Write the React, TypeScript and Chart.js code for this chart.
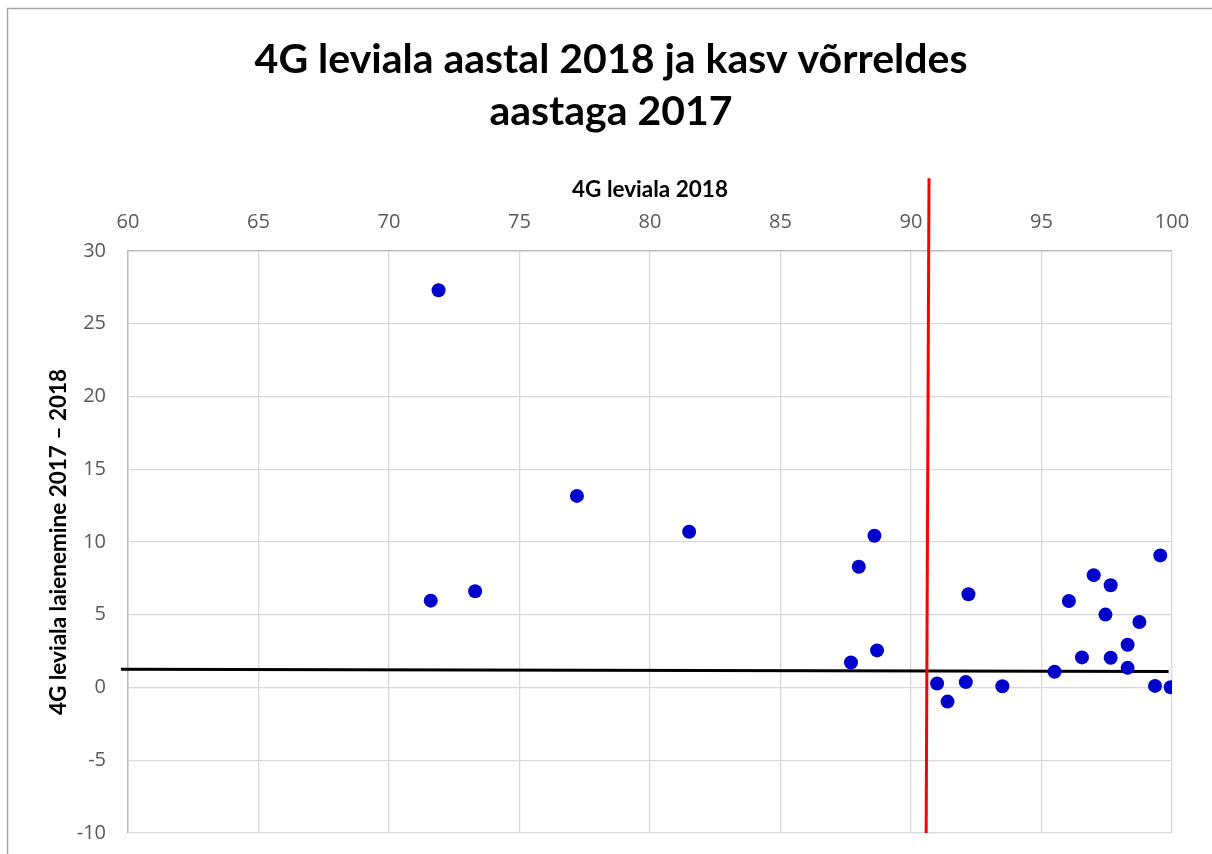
import React, { useEffect, useRef } from "react";
import { Chart, registerables } from "chart.js";

Chart.register(...registerables);

const TITLE_LINES = ["4G leviala aastal 2018 ja kasv võrreldes", "aastaga 2017"];
const X_TITLE = "4G leviala 2018";
const Y_TITLE = "4G leviala laienemine 2017 – 2018";

const coverage2018 = [
  71.6, 71.9, 73.3, 77.2, 81.5, 87.7, 88.0, 88.6, 88.7, 91.0, 91.4, 92.1, 92.2, 93.5,
  95.5, 96.05, 96.55, 97.0, 97.45, 97.65, 97.65, 98.3, 98.3, 98.75, 99.35, 99.55, 99.95,
];
const growth = [
  5.97, 27.3, 6.62, 13.17, 10.7, 1.72, 8.3, 10.43, 2.55, 0.28, -0.97, 0.37, 6.41, 0.09,
  1.08, 5.95, 2.07, 7.72, 5.01, 7.03, 2.04, 2.94, 1.35, 4.5, 0.11, 9.08, 0.02,
];

const redLineX = [90.69, 90.58];
const redLineY = [35.0, -10];
const blackLineX = [59.73, 99.87];
const blackLineY = [1.26, 1.1];

const xTicks = { min: 60, max: 100, step: 5 };
const yTicks = { min: -10, max: 30, step: 5 };

const zip = (xs: number[], ys: number[]) => xs.map((x, i) => ({ x, y: ys[i] }));

const framePlugin = {
  id: "frame",
  beforeDraw(chart: any) {
    const ctx = chart.ctx;
    ctx.save();
    ctx.fillStyle = "#ffffff";
    ctx.fillRect(0, 0, chart.width, chart.height);
    ctx.strokeStyle = "#a6a6a6";
    ctx.lineWidth = 1.5;
    ctx.strokeRect(7.5, 8.5, chart.width + 50, chart.height + 50);
    ctx.restore();
  },
  afterDraw(chart: any) {
    const ctx = chart.ctx;
    ctx.save();
    ctx.fillStyle = "#000000";
    ctx.font = "bold 41px Lato, sans-serif";
    ctx.textAlign = "center";
    ctx.textBaseline = "alphabetic";
    ctx.fillText(TITLE_LINES[0], 611, 73);
    ctx.fillText(TITLE_LINES[1], 611, 125);
    ctx.restore();
  },
};

export default function App() {
  const ref = useRef<HTMLCanvasElement | null>(null);

  useEffect(() => {
    if (!ref.current) return;
    const tickFont = { family: "'Open Sans', sans-serif", size: 20 };
    const titleFont = { family: "Lato, sans-serif", size: 22.5, weight: "bold" };
    const chart = new Chart(ref.current, {
      type: "scatter",
      data: {
        datasets: [
          {
            label: "points",
            data: zip(coverage2018, growth),
            backgroundColor: "#0000CC",
            borderWidth: 0,
            pointRadius: 7,
            pointHoverRadius: 7,
          },
          {
            label: "red",
            data: zip(redLineX, redLineY),
            showLine: true,
            borderColor: "#FF0000",
            borderWidth: 3,
            pointRadius: 0,
            clip: false,
          } as any,
          {
            label: "black",
            data: zip(blackLineX, blackLineY),
            showLine: true,
            borderColor: "#000000",
            borderWidth: 3,
            pointRadius: 0,
            clip: false,
          } as any,
        ],
      },
      options: {
        responsive: false,
        animation: false,
        layout: { padding: { left: 0, right: 40, top: 160, bottom: 21 } },
        plugins: {
          legend: { display: false },
          tooltip: { enabled: false },
          title: { display: false },
        },
        scales: {
          x: {
            type: "linear",
            position: "top",
            min: xTicks.min,
            max: xTicks.max,
            afterFit: (s: any) => {
              s.height = 91;
            },
            ticks: { stepSize: xTicks.step, color: "#595959", font: tickFont, padding: 0 },
            grid: {
              color: "#d9d9d9",
              lineWidth: 1.3,
              drawTicks: true,
              tickLength: 17,
              tickColor: "rgba(0,0,0,0)",
            },
            border: { color: "#bfbfbf", width: 1.5 },
            title: {
              display: true,
              text: X_TITLE,
              color: "#000000",
              font: titleFont,
              padding: { top: 16, bottom: 0 },
            },
          },
          y: {
            type: "linear",
            min: yTicks.min,
            max: yTicks.max,
            afterFit: (s: any) => {
              s.width = 128;
            },
            ticks: { stepSize: yTicks.step, color: "#595959", font: tickFont, padding: 0 },
            grid: {
              color: "#d9d9d9",
              lineWidth: 1.3,
              drawTicks: true,
              tickLength: 22,
              tickColor: "rgba(0,0,0,0)",
            },
            border: { color: "#bfbfbf", width: 1.5 },
            title: {
              display: true,
              text: Y_TITLE,
              color: "#000000",
              font: titleFont,
              padding: { top: 45, bottom: 0 },
            },
          },
        },
      },
      plugins: [framePlugin],
    } as any);
    return () => chart.destroy();
  }, []);

  return (
    <div style={{ position: "fixed", left: 0, top: 0, width: 1212, height: 854 }}>
      <canvas ref={ref} width={1212} height={854} />
    </div>
  );
}
